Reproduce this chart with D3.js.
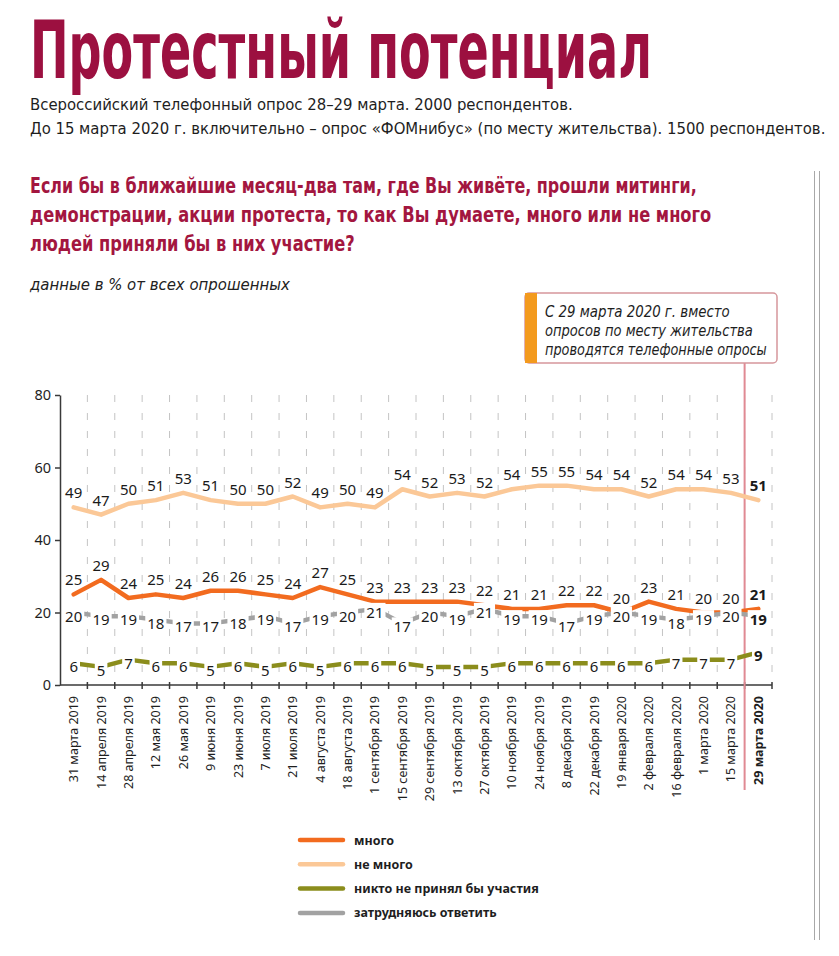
<!DOCTYPE html>
<html>
<head>
<meta charset="utf-8">
<style>
body { margin: 0; background: #fff; }
svg text { font-family: "Noto Sans", "Open Sans", sans-serif; }
.cond { font-family: "DejaVu Sans Condensed", "DejaVu Sans", sans-serif; font-stretch: condensed; }
</style>
</head>
<body>
<svg id="chart" width="839" height="956"></svg>

<script src="https://d3js.org/d3.v7.min.js"></script>
<script>

var dates = ["31 марта 2019", "14 апреля 2019", "28 апреля 2019", "12 мая 2019", "26 мая 2019",
  "9 июня 2019", "23 июня 2019", "7 июля 2019", "21 июля 2019", "4 августа 2019",
  "18 августа 2019", "1 сентября 2019", "15 сентября 2019", "29 сентября 2019",
  "13 октября 2019", "27 октября 2019", "10 ноября 2019", "24 ноября 2019",
  "8 декабря 2019", "22 декабря 2019", "19 января 2020", "2 февраля 2020",
  "16 февраля 2020", "1 марта 2020", "15 марта 2020", "29 марта 2020"]

var mnogo   = [25, 29, 24, 25, 24, 26, 26, 25, 24, 27, 25, 23, 23, 23, 23, 22, 21, 21, 22, 22, 20, 23, 21, 20, 20, 21]
var neMnogo = [49, 47, 50, 51, 53, 51, 50, 50, 52, 49, 50, 49, 54, 52, 53, 52, 54, 55, 55, 54, 54, 52, 54, 54, 53, 51]
var nikto   = [6, 5, 7, 6, 6, 5, 6, 5, 6, 5, 6, 6, 6, 5, 5, 5, 6, 6, 6, 6, 6, 6, 7, 7, 7, 9]
var zatr    = [20, 19, 19, 18, 17, 17, 18, 19, 17, 19, 20, 21, 17, 20, 19, 21, 19, 19, 17, 19, 20, 19, 18, 19, 20, 19]

var yTicks = [0, 20, 40, 60, 80]

var legendNames = ["много", "не много", "никто не принял бы участия", "затрудняюсь ответить"]

var svg = d3.select("#chart")

var crimson = "#9c1040"

// squeeze a text horizontally to a given width (condensed look)
function fitText(x0, y0, width, str, attrs){
  var t = svg.append("text").attr("class", "cond").text(str)
  for (var k in attrs) t.attr(k, attrs[k])
  var w = t.node().getComputedTextLength()
  t.attr("transform", "translate(" + x0 + "," + y0 + ") scale(" + (width / w) + ",1)")
  return t
}

// --- header texts
fitText(30, 78, 622, "Протестный потенциал",
  {"font-size": 80, "font-weight": "bold", "fill": crimson})

var subs = [
  ["Всероссийский телефонный опрос 28–29 марта. 2000 респондентов.", 110, 543],
  ["До 15 марта 2020 г. включительно – опрос «ФОМнибус» (по месту жительства). 1500 респондентов.", 134, 796]
]
subs.forEach(function(s){
  fitText(30, s[1], s[2], s[0], {"font-size": 16.5, "fill": "#1e1e1e"})
})

var question = [
  ["Если бы в ближайшие месяц-два там, где Вы живёте, прошли митинги,", 193, 667],
  ["демонстрации, акции протеста, то как Вы думаете, много или не много", 222, 682],
  ["людей приняли бы в них участие?", 251, 325]
]
question.forEach(function(s){
  fitText(30, s[1], s[2], s[0], {"font-size": 22, "font-weight": 600, "fill": "#a3163f"})
})

fitText(30, 290, 260, "данные в % от всех опрошенных",
  {"font-size": 15.5, "font-style": "italic", "fill": "#222"})

// page border lines on the right
svg.append("line").attr("x1", 814.5).attr("x2", 814.5).attr("y1", 171).attr("y2", 940)
  .attr("stroke", "#a8a8a8").attr("stroke-width", 1)
svg.append("line").attr("x1", 819.5).attr("x2", 819.5).attr("y1", 171).attr("y2", 940)
  .attr("stroke", "#a8a8a8").attr("stroke-width", 1)

// --- scales
var x = d3.scaleBand().domain(dates).range([60, 772]).padding(0)
var y = d3.scaleLinear().domain([0, 80]).range([685, 395])
var cx = function(i){ return x(dates[i]) + x.bandwidth() / 2 }

var bounds = dates.map(function(d){ return x(d) }).concat([x.range()[1]])

// dashed vertical grid
svg.append("g").selectAll("line").data(bounds.slice(1)).enter().append("line")
  .attr("x1", function(d){ return d }).attr("x2", function(d){ return d })
  .attr("y1", y(80)).attr("y2", y(0))
  .attr("stroke", "#c4c4c4").attr("stroke-width", 1)
  .attr("stroke-dasharray", "7,11")

// y axis
var yAxis = svg.append("g").attr("transform", "translate(60,0)")
  .call(d3.axisLeft(y).tickValues(yTicks).tickSize(5).tickSizeOuter(0).tickPadding(4))
yAxis.select(".domain").attr("stroke", "#3a3a3a").attr("stroke-width", 1.5)
yAxis.selectAll(".tick line").attr("stroke", "#3a3a3a").attr("stroke-width", 1.5)
yAxis.selectAll(".tick text").attr("font-size", 14.5).attr("fill", "#1e1e1e")
  .attr("font-family", "'Noto Sans', sans-serif")

// x axis line and boundary ticks
svg.append("line").attr("x1", 60).attr("x2", 772).attr("y1", y(0)).attr("y2", y(0))
  .attr("stroke", "#3a3a3a").attr("stroke-width", 1.5)
svg.append("g").selectAll("line").data(bounds.slice(1)).enter().append("line")
  .attr("x1", function(d){ return d }).attr("x2", function(d){ return d })
  .attr("y1", y(0) - 3).attr("y2", y(0) + 4)
  .attr("stroke", "#3a3a3a").attr("stroke-width", 1.5)

// x labels
svg.append("g").selectAll("text").data(dates).enter().append("text")
  .attr("transform", function(d, i){ return "translate(" + (cx(i) + 4.5) + "," + (y(0) + 11) + ") rotate(-90)" })
  .attr("text-anchor", "end")
  .attr("font-size", 12.5)
  .attr("font-weight", function(d, i){ return i == dates.length - 1 ? "bold" : "normal" })
  .attr("fill", "#1e1e1e")
  .text(function(d){ return d })

// annotation box + red line
svg.append("line").attr("x1", bounds[25]).attr("x2", bounds[25]).attr("y1", 363).attr("y2", 790)
  .attr("stroke", "#e08a93").attr("stroke-width", 2)
svg.append("rect").attr("x", 525).attr("y", 293).attr("width", 252).attr("height", 70).attr("rx", 4)
  .attr("fill", "#fff").attr("stroke", "#d6979c").attr("stroke-width", 1.5)
svg.append("rect").attr("x", 525).attr("y", 293).attr("width", 12).attr("height", 70)
  .attr("fill", "#f39a1e")
var note = [["С 29 марта 2020 г. вместо", 317, 185], ["опросов по месту жительства", 336, 208], ["проводятся телефонные опросы", 355, 222]]
note.forEach(function(s){
  fitText(545, s[1], s[2], s[0], {"font-size": 15, "font-style": "italic", "fill": "#1e1e1e"})
})

// --- series
var series = [
  {vals: neMnogo, color: "#fbc897", lab: "above"},
  {vals: mnogo,   color: "#f26b1f", lab: "above"},
  {vals: zatr,    color: "#a2a2a2", lab: "on"},
  {vals: nikto,   color: "#8b8d1c", lab: "on"}
]

var line = d3.line()
  .x(function(d, i){ return cx(i) })
  .y(function(d){ return y(d) })

series.forEach(function(s){
  svg.append("path").datum(s.vals)
    .attr("d", line)
    .attr("fill", "none")
    .attr("stroke", s.color)
    .attr("stroke-width", 4.5)
    .attr("stroke-linejoin", "round")
    .attr("stroke-linecap", "round")
})

var last = dates.length - 1

series.forEach(function(s){
  var g = svg.append("g")
  s.vals.forEach(function(v, i){
    var t = g.append("text")
      .attr("x", cx(i)).attr("text-anchor", "middle")
      .attr("font-size", 15)
      .attr("font-weight", i == last ? "bold" : "normal")
      .attr("fill", "#1a1a1a")
      .text(v)
    if(s.lab == "above"){
      t.attr("y", y(v) - 9)
    } else {
      t.attr("y", y(v) + 9)
      var w = t.node().getComputedTextLength()
      g.insert("rect", "text")
        .attr("x", cx(i) - w / 2 - 2).attr("y", y(v) - 6)
        .attr("width", w + 4).attr("height", 15)
        .attr("fill", "#fff")
    }
  })
})

// legend
var legendColors = ["#f26b1f", "#fbc897", "#8b8d1c", "#a2a2a2"]
var lg = svg.append("g")
legendNames.forEach(function(n, i){
  var ly = 840 + i * 24.3
  lg.append("line").attr("x1", 300).attr("x2", 343).attr("y1", ly).attr("y2", ly)
    .attr("stroke", legendColors[i]).attr("stroke-width", 4.5).attr("stroke-linecap", "round")
  lg.append("text").attr("x", 354).attr("y", ly + 4.5)
    .attr("font-size", 12.5).attr("font-weight", "bold").attr("fill", "#1e1e1e")
    .text(n)
})

</script>
</body>
</html>
